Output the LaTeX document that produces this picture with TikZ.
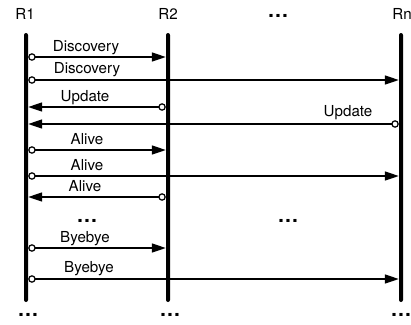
\documentclass[tikz,border=0pt]{standalone}
\usepackage{fontspec}
\setmainfont{TeX Gyre Heros}
\usetikzlibrary{arrows.meta}
\newcommand{\lifeLength}{269}
\newcommand{\msgFont}{\fontsize{15.2}{17}\selectfont}
\newcommand{\moreDots}{\bfseries\fontsize{21}{22}\selectfont}

\begin{document}
\begin{tikzpicture}[x=1bp,y=-1bp]
  \tikzset{
    lifeline/.style={fill=black,inner sep=0pt,minimum width=4bp,minimum height=\lifeLength bp,rounded corners=2bp},
    router/.style={font=\msgFont,inner sep=0pt},
    msg/.style={line width=1.3bp,{Circle[fill=white,length=7.5bp,line width=1.2bp]}-{Triangle[length=14bp,width=9bp]}},
    lbl/.style={font=\msgFont,anchor=base,inner sep=0pt},
    more/.style={font=\moreDots,inner sep=0pt}
  }
  \useasboundingbox (0,0) rectangle (411,325);
  \node[router] (r1) at (25,14) {R1};
  \node[router] (r2) at (168,14) {R2};
  \node[router] (rn) at (402,14) {Rn};
  \node[more] (topdots) at (278,16) {\ldots};
  \node[lifeline] (L1) at (26,167.5) {};
  \node[lifeline] (L2) at (168,167.5) {};
  \node[lifeline] (Ln) at (401,167.5) {};
  \draw[msg] (L1.east |- 0,57) -- (L2.west |- 0,57);
  \node[lbl] (disc1) at (86,51.5) {Discovery};
  \draw[msg] (L1.east |- 0,80) -- (Ln.west |- 0,80);
  \node[lbl] (disc2) at (87,73.5) {Discovery};
  \draw[msg] (L2.west |- 0,107) -- (L1.east |- 0,107);
  \node[lbl] (upd1) at (85,101.5) {Update};
  \draw[msg] (Ln.west |- 0,124) -- (L1.east |- 0,124);
  \node[lbl] (upd2) at (348,116.5) {Update};
  \draw[msg] (L1.east |- 0,150) -- (L2.west |- 0,150);
  \node[lbl] (alive1) at (87,144.5) {Alive};
  \draw[msg] (L1.east |- 0,176) -- (Ln.west |- 0,176);
  \node[lbl] (alive2) at (87,170) {Alive};
  \draw[msg] (L2.west |- 0,197) -- (L1.east |- 0,197);
  \node[lbl] (alive3) at (85,191.5) {Alive};
  \node[more] (dots1) at (87,221) {\ldots};
  \node[more] (dots2) at (288,221) {\ldots};
  \draw[msg] (L1.east |- 0,248) -- (L2.west |- 0,248);
  \node[lbl] (bye1) at (85,242.5) {Byebye};
  \draw[msg] (L1.east |- 0,279) -- (Ln.west |- 0,279);
  \node[lbl] (bye2) at (89,272) {Byebye};
  \node[more] (botdots1) at (28,315) {\ldots};
  \node[more] (botdots2) at (170,315) {\ldots};
  \node[more] (botdotsn) at (401,315) {\ldots};
\end{tikzpicture}
\end{document}
